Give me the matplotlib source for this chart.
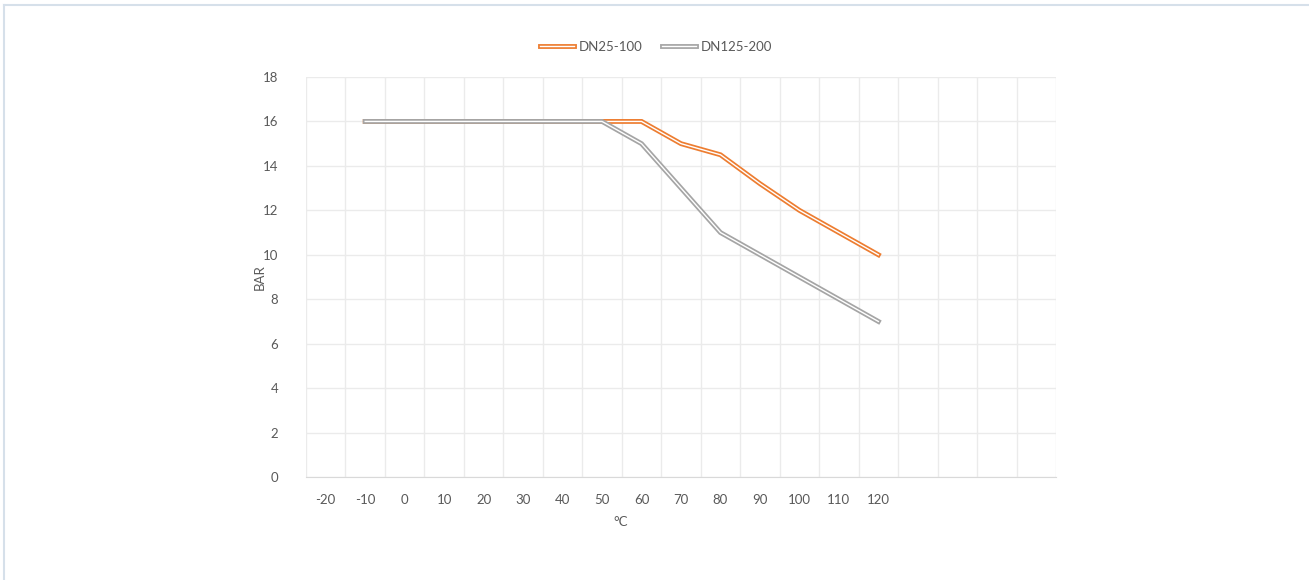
import numpy as np
import matplotlib
matplotlib.use("Agg")
import matplotlib.pyplot as plt
import matplotlib.patheffects as pe
from matplotlib.lines import Line2D

# category axis: 15 labelled temperatures, then 4 empty slots
categories = ["-20", "-10", "0", "10", "20", "30", "40", "50", "60",
              "70", "80", "90", "100", "110", "120", "", "", "", ""]
nan = np.nan
dn25_100 = [nan, 16, 16, 16, 16, 16, 16, 16, 16, 15, 14.5, 13.2, 12, 11, 10]
dn125_200 = [nan, 16, 16, 16, 16, 16, 16, 16, 15, 13, 11, 10, 9, 8, 7]
series_labels = ["DN25-100", "DN125-200"]
series_colors = ["#ED7D31", "#A5A5A5"]
yticks = list(range(0, 19, 2))

plt.rcParams["font.family"] = ["Lato", "DejaVu Sans"]
txtcolor = "#595959"
gridcolor = "#EBEBEB"

W, H = 1309, 580
fig = plt.figure(figsize=(W / 100, H / 100), dpi=100)
ax = fig.add_axes([306 / W, 1 - 477 / H, 750 / W, 400 / H])

def double(color):
    return [pe.Stroke(linewidth=3.5, foreground=color), pe.Normal()]

handles = []
for vals, lab, col in zip([dn25_100, dn125_200], series_labels, series_colors):
    x = np.arange(len(vals))
    ax.plot(x, vals, color="white", lw=1.0, solid_joinstyle="miter",
            path_effects=double(col), label=lab, zorder=3)
    handles.append(Line2D([], [], color="white", lw=1.0, path_effects=double(col), label=lab))

ax.set_xlim(-0.5, len(categories) - 0.5)
ax.set_ylim(0, 18)
ax.set_xticks(np.arange(len(categories)))
ax.set_xticklabels(categories)
ax.set_xticks(np.arange(-0.5, len(categories), 1), minor=True)
ax.set_yticks(yticks)
ax.tick_params(axis="both", which="both", length=0, colors=txtcolor, labelsize=9.5)
ax.tick_params(axis="x", pad=12)
ax.tick_params(axis="y", pad=20)
ax.grid(True, axis="x", which="minor", color=gridcolor, lw=1)
ax.grid(True, axis="y", which="major", color=gridcolor, lw=1)
ax.grid(False, axis="x", which="major")
for s in ["top", "right", "left"]:
    ax.spines[s].set_visible(False)
ax.spines["bottom"].set_color("#D9D9D9")
ax.set_axisbelow(True)

fig.text(621 / W, 1 - 522 / H, "°C", ha="center", va="center", color=txtcolor, fontsize=9.5)
fig.text(260 / W, 1 - 277 / H, "BAR", ha="center", va="center", rotation=90, color=txtcolor, fontsize=9.5)

fig.legend(handles=handles, loc="center", bbox_to_anchor=(656 / W, 1 - 47 / H), ncol=2,
           frameon=False, fontsize=9.5, labelcolor=txtcolor, handlelength=2.6,
           handletextpad=0.35, columnspacing=1.5)

# chart area border
fig.add_artist(Line2D([4 / W, 1], [1 - 5 / H, 1 - 5 / H], color="#D6E0EA", lw=1.5))
fig.add_artist(Line2D([4 / W, 4 / W], [0, 1 - 5 / H], color="#D6E0EA", lw=1.5))

fig.savefig("out.png", dpi=100)
